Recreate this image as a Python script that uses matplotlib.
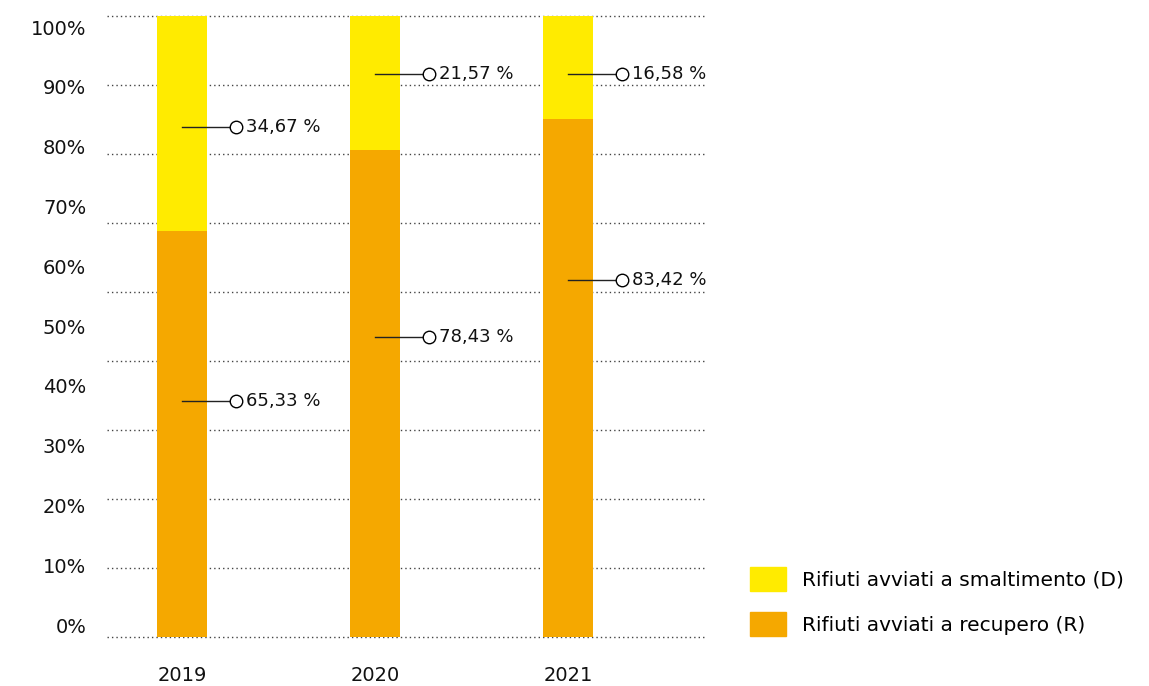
import numpy as np
import matplotlib
matplotlib.use("Agg")
import matplotlib.pyplot as plt
from matplotlib.patches import Patch

# data
years = ["2019", "2020", "2021"]
recupero = [65.33, 78.43, 83.42]       # Rifiuti avviati a recupero (R)
smaltimento = [34.67, 21.57, 16.58]    # Rifiuti avviati a smaltimento (D)
recupero_tag_y = [38.0, 48.3, 57.5]    # height of the callout on each segment
smaltimento_tag_y = [82.1, 90.7, 90.7]
tick_labels = ["0%", "10%", "20%", "30%", "40%", "50%", "60%", "70%", "80%", "90%", "100%"]

YELLOW = "#FFEB00"
ORANGE = "#F5A800"

fig = plt.figure(figsize=(11.49, 6.86), dpi=100)
ax = fig.add_axes([107/1149, 49/686, 598/1149, 621/686])

x = np.arange(len(years))
w = 0.259
ax.bar(x, recupero, width=w, color=ORANGE, zorder=2)
ax.bar(x, smaltimento, width=w, bottom=recupero, color=YELLOW, zorder=2)

# dotted grid (9 bands)
for gy in np.linspace(0, 100, 10):
    ax.axhline(gy, color="#444444", lw=1.0, ls=(0, (1, 2.2)), zorder=1, clip_on=False)

# callouts: line from bar centre to a hollow dot, then the value
def callout(xi, yv, val):
    ax.plot([xi, xi + 0.28], [yv, yv], color="#222222", lw=1.0, zorder=3)
    ax.plot(xi + 0.28, yv, marker="o", ms=9, mfc="white", mec="black", mew=1.0, zorder=4)
    ax.annotate(f"{val:.2f} %".replace(".", ","), (xi + 0.28, yv), xytext=(7, 0),
                textcoords="offset points", va="center", ha="left", fontsize=13, color="#111111")

for i in range(len(years)):
    callout(x[i], recupero_tag_y[i], recupero[i])
    callout(x[i], smaltimento_tag_y[i], smaltimento[i])

ax.set_xlim(-0.389, 2.71)
ax.set_ylim(0, 100)
ax.set_xticks(x)
ax.set_xticklabels(years, fontsize=14, color="#111111")
ax.set_yticks(np.linspace(1.9, 98.2, 11))
ax.set_yticklabels(tick_labels, fontsize=14, color="#111111")
ax.tick_params(axis="both", length=0)
ax.tick_params(axis="x", pad=21)
ax.tick_params(axis="y", pad=15)
for s in ax.spines.values():
    s.set_visible(False)

handles = [Patch(color=YELLOW, label="Rifiuti avviati a smaltimento (D)"),
           Patch(color=ORANGE, label="Rifiuti avviati a recupero (R)")]
fig.legend(handles=handles, loc="upper left", bbox_to_anchor=(750/1149, 1 - 567/686),
           frameon=False, fontsize=14.5, handlelength=1.8, handleheight=1.45,
           handletextpad=0.8, labelspacing=1.05, borderpad=0, borderaxespad=0)

fig.savefig("out.png", dpi=100, facecolor="white")
